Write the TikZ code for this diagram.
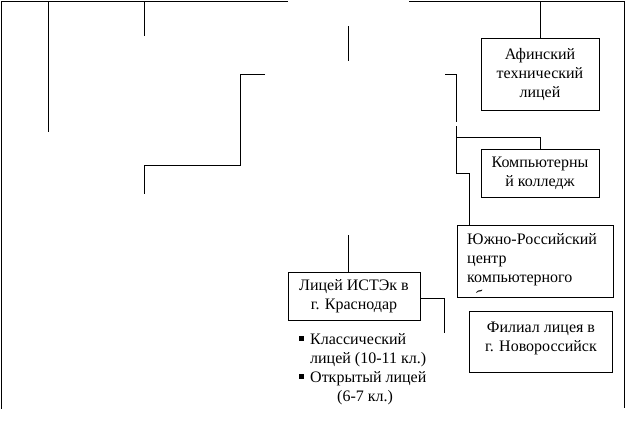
\documentclass[tikz,border=0pt]{standalone}
\usepackage{fontspec}
\setmainfont{Liberation Serif}
\newcommand{\lbul}{\makebox[11pt][l]{\rule[3.5pt]{5pt}{5pt}}}
\newcommand{\lsp}{\hspace*{11pt}}
\begin{document}
\begin{tikzpicture}[x=1pt,y=-1pt,
  every node/.style={font=\fontsize{16}{19}\selectfont},
  box/.style={draw, rectangle, inner sep=0pt, align=center, line width=1pt},
  wire/.style={draw, line width=1pt}]
\useasboundingbox (0,0) rectangle (626,421);

% boxes
\node[box, minimum width=118pt, minimum height=72pt] (afinsky) at (540,74) {Афинский\\технический\\лицей};
\node[box, minimum width=118pt, minimum height=48pt] (komp) at (540,173) {Компьютерны\\й колледж};
\node[box, minimum width=132pt, minimum height=48pt] (licey) at (354,296) {Лицей ИСТЭк в\\г. Краснодар};
\node[draw, line width=1pt, inner sep=0pt, anchor=north west] (filial) at (469,311)
  {\parbox[t][61pt][t]{143pt}{\centering\vspace*{7.5pt}\strut Филиал лицея в\\г. Новороссийск}};
\begin{scope}
  \clip (457,225) rectangle (613,292);
  \node[inner sep=0pt, anchor=north west] (yuzhno) at (457,225)
    {\parbox[t][72pt][t]{156pt}{\vspace*{5.5pt}\leftskip=10pt\parindent=0pt\strut Южно-Российский\\центр\\компьютерного\\обучения}};
\end{scope}
\draw[line width=1pt] (yuzhno.north west) rectangle (yuzhno.south east);

\node[anchor=base west, inner sep=0pt, align=left] (list) at (299,401)
  {\lbul Классический\\\lsp лицей (10-11 кл.)\\\lbul Открытый лицей\\\lsp\hspace*{27pt}(6-7 кл.)};

% free ends
\coordinate (tl) at (1,1);
\coordinate (tm1) at (288,1);
\coordinate (tm2) at (409,1);
\coordinate (tr) at (624,1);
\coordinate (bl) at (1,409);
\coordinate (br) at (624,408);
\coordinate (a1) at (48,1);
\coordinate (a2) at (48,132);
\coordinate (b1) at (144,1);
\coordinate (b2) at (144,36);
\coordinate (m1) at (348,26);
\coordinate (m2) at (348,61);
\coordinate (p1) at (265,74);
\coordinate (p2) at (240,165);
\coordinate (p3) at (144,194);
\coordinate (q1) at (445,74);
\coordinate (q2) at (456,122);
\coordinate (q3) at (456,126);
\coordinate (q4) at (456,173);
\coordinate (k1) at (456,137);
\coordinate (m3) at (348,235);
\coordinate (c2) at (444,333);

% connectors
\draw[wire] (tm1) -- (tl) -- (bl);
\draw[wire] (tm2) -- (tr) -- (br);
\draw[wire] (a1) -- (a2);
\draw[wire] (b1) -- (b2);
\draw[wire] (m1) -- (m2);
\draw[wire] (p1) -| (p2) -| (p3);
\draw[wire] (q1) -| (q2);
\draw[wire] ([xshift=12pt]yuzhno.north west) |- (q4) -- (q3);
\draw[wire] (komp.north) |- (k1);
\draw[wire] (afinsky.north) -- (afinsky.north |- tr);
\draw[wire] (m3) -- (m3 |- licey.north);
\draw[wire] ([yshift=-2pt]licey.east) -| (c2);
\end{tikzpicture}
\end{document}
